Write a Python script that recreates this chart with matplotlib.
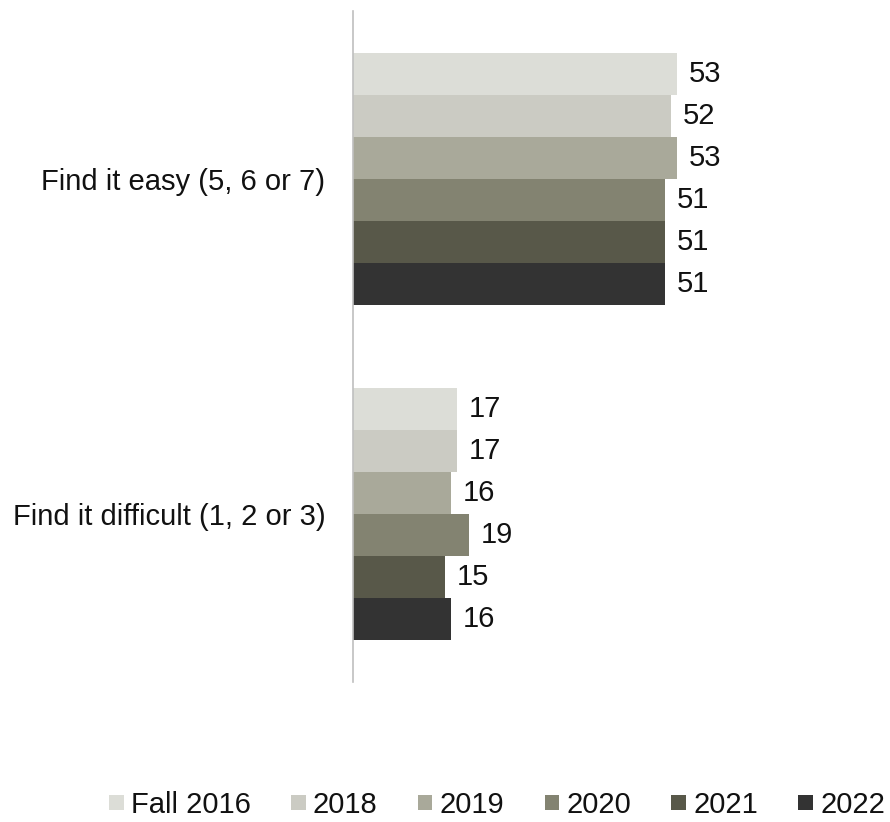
import matplotlib
matplotlib.use("Agg")
import matplotlib.pyplot as plt
import numpy as np

plt.rcParams['font.family'] = ['Liberation Sans', 'DejaVu Sans']

categories = ["Find it easy (5, 6 or 7)", "Find it difficult (1, 2 or 3)"]
series = ["Fall 2016", "2018", "2019", "2020", "2021", "2022"]
values = {
    "Fall 2016": [53, 17],
    "2018": [52, 17],
    "2019": [53, 16],
    "2020": [51, 19],
    "2021": [51, 15],
    "2022": [51, 16],
}
colors = ["#DCDDD7", "#CBCBC3", "#A9A99A", "#838371", "#585849", "#333333"]

W, H = 890, 822
FS = 21
fig = plt.figure(figsize=(W / 100, H / 100), dpi=100)
ax_left, ax_right = 353, 885
ax_top, ax_bottom = 11, 682
ax = fig.add_axes([ax_left / W, 1 - ax_bottom / H,
                   (ax_right - ax_left) / W, (ax_bottom - ax_top) / H])

n = len(series)
group_h = 0.75
bar_h = group_h / n
y = np.arange(len(categories))
for i, s in enumerate(series):
    offs = -group_h / 2 + bar_h * (i + 0.5)
    bars = ax.barh(y + offs, values[s], height=bar_h, color=colors[i],
                   label=s, edgecolor="none")
    for b, v in zip(bars, values[s]):
        ax.text(v + 1.9, b.get_y() + b.get_height() / 2, f"{v}",
                va="center", ha="left", fontsize=FS, color="#111111")

ax.set_ylim(1.5, -0.5)
ax.set_xlim(0, (ax_right - ax_left) / 6.12)
ax.set_yticks(y)
ax.set_yticklabels(categories, fontsize=FS, color="#111111")
ax.tick_params(axis="y", length=0, pad=20)
ax.set_xticks([])
for sp in ["top", "right", "bottom"]:
    ax.spines[sp].set_visible(False)
ax.spines["left"].set_color("#BFBFBF")
ax.spines["left"].set_linewidth(1.2)

fig.legend(loc="center", bbox_to_anchor=(497 / W, 1 - 805 / H), ncol=n,
           frameon=False, fontsize=FS, handlelength=0.5, handleheight=0.45,
           handletextpad=0.25, columnspacing=1.38, labelcolor="#111111",
           borderaxespad=0, borderpad=0)

fig.savefig("out.png", dpi=100, facecolor="white")
